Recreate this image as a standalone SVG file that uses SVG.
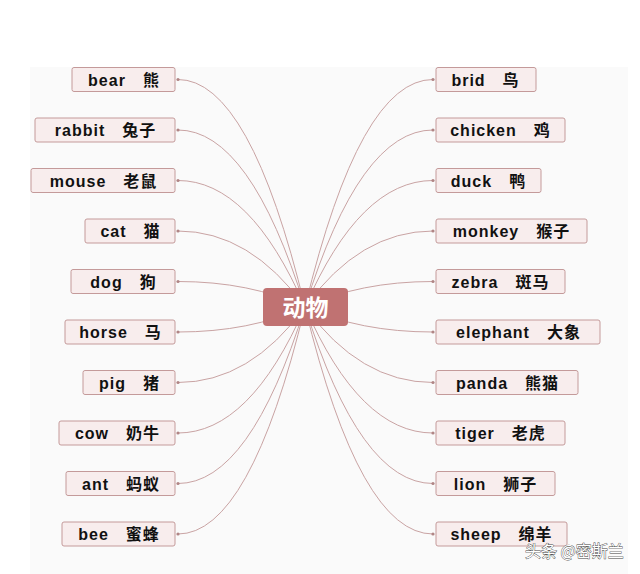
<svg xmlns="http://www.w3.org/2000/svg" width="640" height="574" viewBox="0 0 640 574">
<style>
.bx{fill:#f8eded;stroke:#c49a9a;stroke-width:1}
.t{font-family:"Liberation Sans","Noto Sans CJK SC",sans-serif;font-weight:bold;font-size:16px;letter-spacing:1px;fill:#111;text-anchor:middle;white-space:pre}
.c{fill:none;stroke:#c9a3a3;stroke-width:1}
.d{fill:#b08585}
</style>
<rect width="640" height="574" fill="#ffffff"/>
<rect x="30" y="67" width="598" height="507" fill="#fafafa"/>
<g id="connectors">
<path class="c" d="M178,79.5 Q250,79.5 305,307"/>
<path class="c" d="M178,130 Q250,130 305,307"/>
<path class="c" d="M178,180.5 Q250,180.5 305,307"/>
<path class="c" d="M178,231 Q250,231 305,307"/>
<path class="c" d="M178,281.5 Q250,281.5 305,307"/>
<path class="c" d="M178,332 Q250,332 305,307"/>
<path class="c" d="M178,382.5 Q250,382.5 305,307"/>
<path class="c" d="M178,433 Q250,433 305,307"/>
<path class="c" d="M178,483.5 Q250,483.5 305,307"/>
<path class="c" d="M178,534 Q250,534 305,307"/>
<path class="c" d="M433,79.5 Q360,79.5 305,307"/>
<path class="c" d="M433,130 Q360,130 305,307"/>
<path class="c" d="M433,180.5 Q360,180.5 305,307"/>
<path class="c" d="M433,231 Q360,231 305,307"/>
<path class="c" d="M433,281.5 Q360,281.5 305,307"/>
<path class="c" d="M433,332 Q360,332 305,307"/>
<path class="c" d="M433,382.5 Q360,382.5 305,307"/>
<path class="c" d="M433,433 Q360,433 305,307"/>
<path class="c" d="M433,483.5 Q360,483.5 305,307"/>
<path class="c" d="M433,534 Q360,534 305,307"/>
<g class="d">
<circle cx="178" cy="79.5" r="1.6"/><circle cx="178" cy="130" r="1.6"/><circle cx="178" cy="180.5" r="1.6"/><circle cx="178" cy="231" r="1.6"/><circle cx="178" cy="281.5" r="1.6"/><circle cx="178" cy="332" r="1.6"/><circle cx="178" cy="382.5" r="1.6"/><circle cx="178" cy="433" r="1.6"/><circle cx="178" cy="483.5" r="1.6"/><circle cx="178" cy="534" r="1.6"/>
<circle cx="433" cy="79.5" r="1.6"/><circle cx="433" cy="130" r="1.6"/><circle cx="433" cy="180.5" r="1.6"/><circle cx="433" cy="231" r="1.6"/><circle cx="433" cy="281.5" r="1.6"/><circle cx="433" cy="332" r="1.6"/><circle cx="433" cy="382.5" r="1.6"/><circle cx="433" cy="433" r="1.6"/><circle cx="433" cy="483.5" r="1.6"/><circle cx="433" cy="534" r="1.6"/>
</g>
</g>
<g id="center">
<rect x="263" y="288" width="85" height="38" rx="4" fill="#c07272"/>
<text x="305.5" y="315.5" font-family="'Noto Sans CJK SC',sans-serif" font-weight="bold" font-size="23" fill="#ffffff" text-anchor="middle">动物</text>
</g>
<g id="n-bear"><rect class="bx" x="72" y="67.5" width="103" height="24" rx="2"/><text class="t" x="124" y="85.5">bear　熊</text></g>
<g id="n-rabbit"><rect class="bx" x="35" y="118" width="140" height="24" rx="2"/><text class="t" x="105.5" y="136">rabbit　兔子</text></g>
<g id="n-mouse"><rect class="bx" x="31" y="168.5" width="144" height="24" rx="2"/><text class="t" x="103.5" y="186.5">mouse　老鼠</text></g>
<g id="n-cat"><rect class="bx" x="85" y="219" width="90" height="24" rx="2"/><text class="t" x="130.5" y="237">cat　猫</text></g>
<g id="n-dog"><rect class="bx" x="71" y="269.5" width="104" height="24" rx="2"/><text class="t" x="123.5" y="287.5">dog　狗</text></g>
<g id="n-horse"><rect class="bx" x="65" y="320" width="110" height="24" rx="2"/><text class="t" x="120.5" y="338">horse　马</text></g>
<g id="n-pig"><rect class="bx" x="83" y="370.5" width="92" height="24" rx="2"/><text class="t" x="129.5" y="388.5">pig　猪</text></g>
<g id="n-cow"><rect class="bx" x="59" y="421" width="116" height="24" rx="2"/><text class="t" x="117.5" y="439">cow　奶牛</text></g>
<g id="n-ant"><rect class="bx" x="66" y="471.5" width="109" height="24" rx="2"/><text class="t" x="121" y="489.5">ant　蚂蚁</text></g>
<g id="n-bee"><rect class="bx" x="62" y="522" width="113" height="24" rx="2"/><text class="t" x="119" y="540">bee　蜜蜂</text></g>
<g id="n-brid"><rect class="bx" x="436" y="67.5" width="100" height="24" rx="2"/><text class="t" x="485.5" y="85.5">brid　鸟</text></g>
<g id="n-chicken"><rect class="bx" x="436" y="118" width="129" height="24" rx="2"/><text class="t" x="500.5" y="136">chicken　鸡</text></g>
<g id="n-duck"><rect class="bx" x="436" y="168.5" width="105" height="24" rx="2"/><text class="t" x="488.5" y="186.5">duck　鸭</text></g>
<g id="n-monkey"><rect class="bx" x="436" y="219" width="151" height="24" rx="2"/><text class="t" x="511.5" y="237">monkey　猴子</text></g>
<g id="n-zebra"><rect class="bx" x="436" y="269.5" width="129" height="24" rx="2"/><text class="t" x="500.5" y="287.5">zebra　斑马</text></g>
<g id="n-elephant"><rect class="bx" x="436" y="320" width="164" height="24" rx="2"/><text class="t" x="518.5" y="338">elephant　大象</text></g>
<g id="n-panda"><rect class="bx" x="436" y="370.5" width="142" height="24" rx="2"/><text class="t" x="507.5" y="388.5">panda　熊猫</text></g>
<g id="n-tiger"><rect class="bx" x="436" y="421" width="129" height="24" rx="2"/><text class="t" x="500.5" y="439">tiger　老虎</text></g>
<g id="n-lion"><rect class="bx" x="436" y="471.5" width="119" height="24" rx="2"/><text class="t" x="495.5" y="489.5">lion　狮子</text></g>
<g id="n-sheep"><rect class="bx" x="436" y="522" width="131" height="24" rx="2"/><text class="t" x="501.5" y="540">sheep　绵羊</text></g>
<text x="525" y="557" font-family="'Noto Sans CJK SC',sans-serif" font-size="16" fill="#ffffff" stroke="#444" stroke-width="0.8" paint-order="stroke">头条 @密斯兰</text>
</svg>
